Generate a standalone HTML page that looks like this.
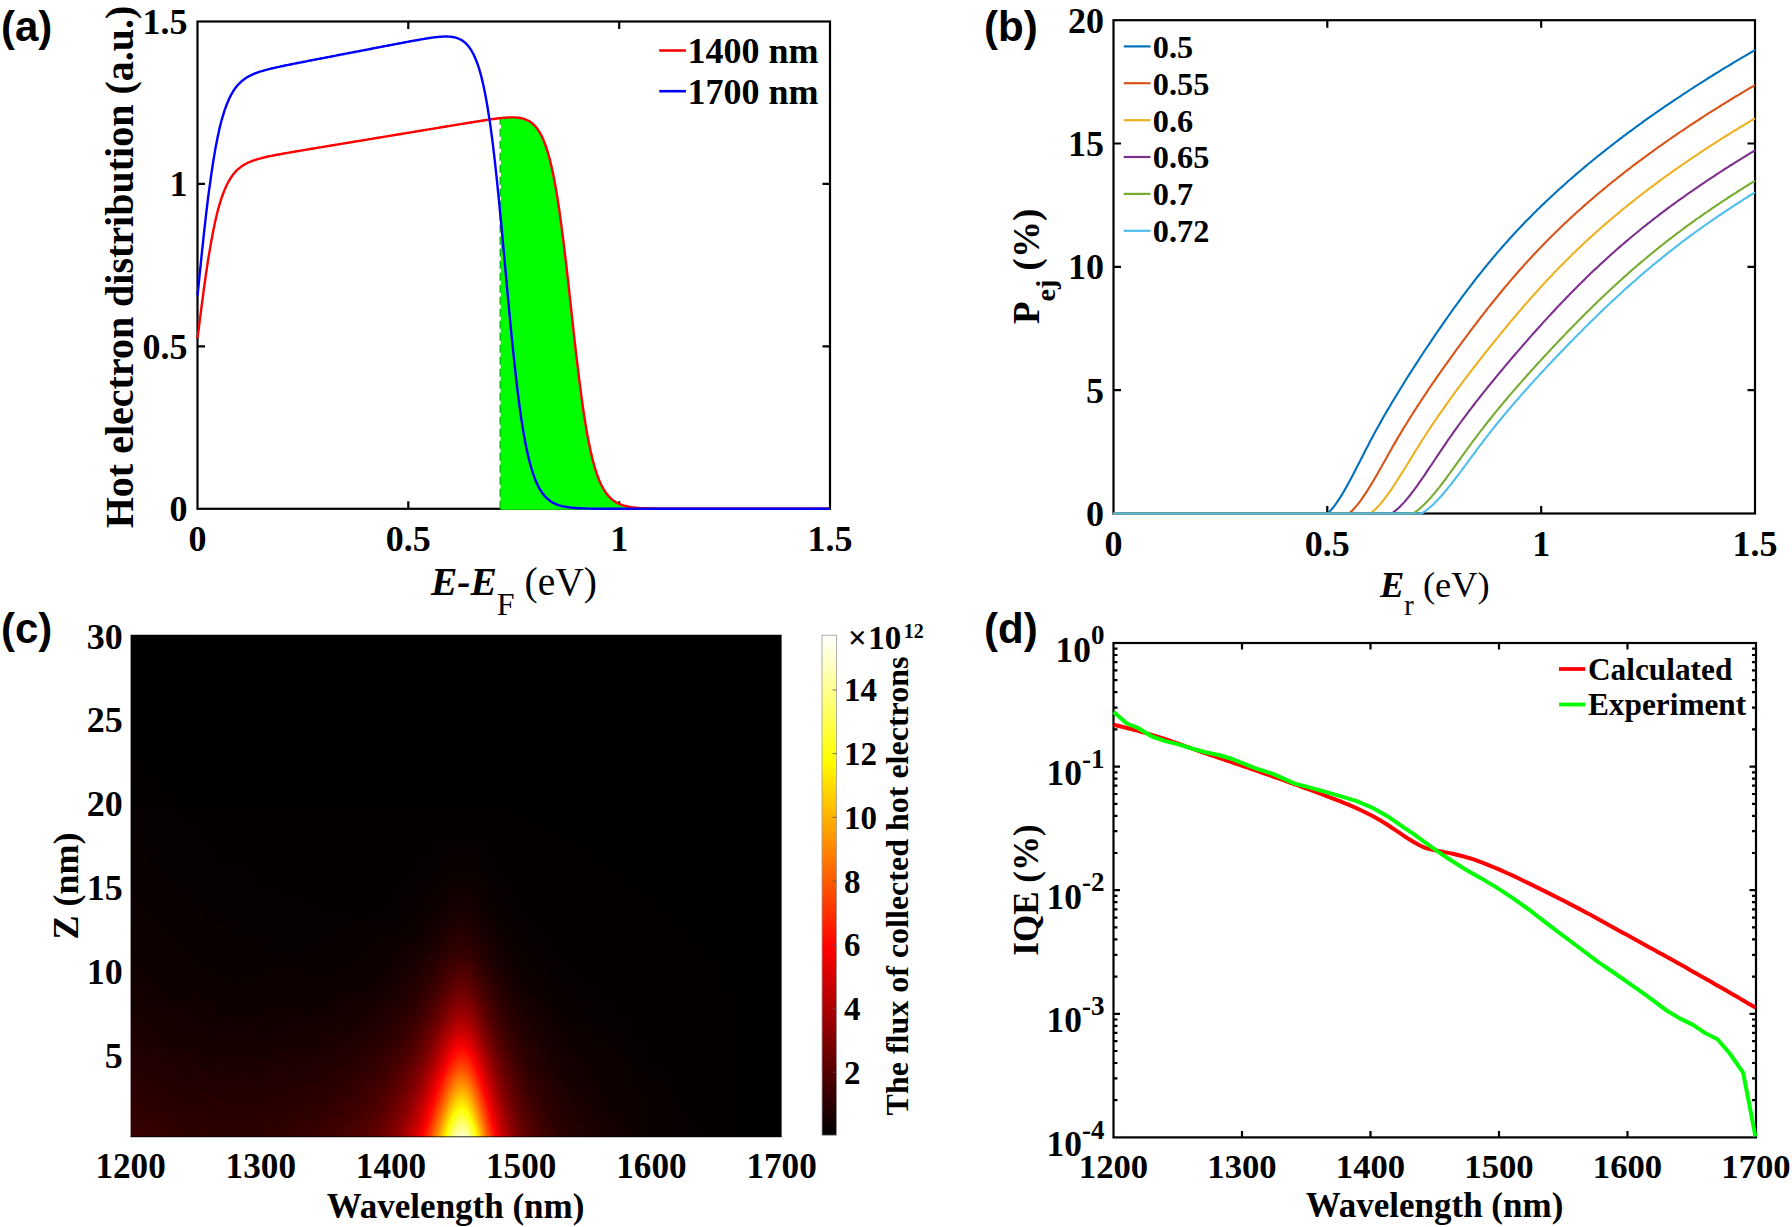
<!DOCTYPE html>
<html lang="en"><head><meta charset="utf-8"><title>Hot electron figure</title>
<style>html,body{margin:0;padding:0;background:#fff;overflow:hidden}svg{display:block}.s{font-family:"Liberation Serif", "Times New Roman", serif;font-weight:bold}.a{font-family:"Liberation Sans", Arial, sans-serif;font-weight:bold}</style>
</head><body>
<svg width="1792" height="1227" viewBox="0 0 1792 1227">
<rect width="1792" height="1227" fill="#fff"/>
<g id="panel-a">
<rect x="197.5" y="21.5" width="632.5" height="487.3" fill="none" stroke="#000" stroke-width="2.2"/>
<path d="M408.3 508.8v-7.5 M408.3 21.5v7.5 M619.2 508.8v-7.5 M619.2 21.5v7.5 M197.5 346.4h7.5 M830 346.4h-7.5 M197.5 183.9h7.5 M830 183.9h-7.5" stroke="#000" stroke-width="2.2" fill="none"/>
<path d="M500.5 509.8 L501.1 118.1 L501.1 118.1 L502.2 117.9 L503.2 117.8 L504.3 117.7 L505.3 117.7 L506.4 117.6 L507.4 117.5 L508.5 117.5 L509.5 117.4 L510.6 117.4 L511.6 117.4 L512.7 117.4 L513.8 117.4 L514.8 117.4 L515.9 117.5 L516.9 117.6 L518 117.7 L519 117.8 L520.1 118 L521.1 118.2 L522.2 118.4 L523.2 118.7 L524.3 119 L525.3 119.4 L526.4 119.8 L527.5 120.3 L528.5 120.8 L529.6 121.4 L530.6 122.1 L531.7 122.9 L532.7 123.8 L533.8 124.7 L534.8 125.8 L535.9 127 L536.9 128.3 L538 129.8 L539 131.4 L540.1 133.2 L541.2 135.1 L542.2 137.3 L543.3 139.6 L544.3 142.2 L545.4 145 L546.4 148 L547.5 151.3 L548.5 154.9 L549.6 158.8 L550.6 162.9 L551.7 167.5 L552.8 172.3 L553.8 177.5 L554.9 183 L555.9 188.9 L557 195.1 L558 201.8 L559.1 208.7 L560.1 216.1 L561.2 223.8 L562.2 231.8 L563.3 240.1 L564.3 248.7 L565.4 257.6 L566.5 266.7 L567.5 276 L568.6 285.4 L569.6 294.9 L570.7 304.6 L571.7 314.2 L572.8 323.8 L573.8 333.4 L574.9 342.8 L575.9 352.1 L577 361.1 L578.1 370 L579.1 378.6 L580.2 386.9 L581.2 394.9 L582.3 402.6 L583.3 410 L584.4 417 L585.4 423.6 L586.5 429.9 L587.5 435.8 L588.6 441.4 L589.7 446.6 L590.7 451.5 L591.8 456.1 L592.8 460.3 L593.9 464.3 L594.9 467.9 L596 471.3 L597 474.5 L598.1 477.4 L599.1 480 L600.2 482.5 L601.2 484.8 L602.3 486.9 L603.4 488.8 L604.4 490.5 L605.5 492.1 L606.5 493.6 L607.6 494.9 L608.6 496.2 L609.7 497.3 L610.7 498.3 L611.8 499.3 L612.8 500.1 L613.9 500.9 L615 501.6 L616 502.3 L617.1 502.8 L618.1 503.4 L619.2 503.9 L620.2 504.3 L621.3 504.7 L622.3 505.1 L623.4 505.4 L624.4 505.7 L625.5 506 L626.5 506.3 L627.6 506.5 L628.7 506.7 L629.7 506.9 L630.8 507.1 L631.8 507.2 L632.9 507.4 L633.9 507.5 L635 507.6 L636 507.7 L637.1 507.8 L638.1 507.9 L639.2 508 L640.2 508.1 L641.3 508.1 L642.4 508.2 L643.4 508.3 L644.5 508.3 L645.5 508.3 L646.6 508.4 L647.6 508.4 L648.7 508.5 L649.7 508.5 L650.8 508.5 L651.8 508.5 L652.9 508.6 L654 508.6 L655 508.6 L656.1 508.6 L657.1 508.6 L658.2 508.7 L659.2 508.7 L660.3 508.7 L661.3 508.7 L662.4 508.7 L663.4 508.7 L664.5 508.7 L665.5 508.7 L666.6 508.7 L667.7 508.7 L668.7 508.7 L669.8 508.8 L670.8 508.8 L671.9 508.8 L672.9 508.8 L674 508.8 L675 508.8 L676.1 508.8 L677.1 508.8 L678.2 508.8 L679.3 508.8 L680.3 508.8 L681.4 508.8 L682.4 508.8 L683.5 508.8 L684.5 508.8 L685.6 508.8 L686.6 508.8 L687.7 508.8 L688.7 508.8 L689.8 508.8 L690.8 508.8 L691.9 508.8 L693 508.8 L694 508.8 L695.1 508.8 L696.1 508.8 L697.2 508.8 L698.2 508.8 L699.3 508.8 L700.3 508.8 L701.4 508.8 L702.4 508.8 L703.5 508.8 L704.6 508.8 L705.6 508.8 L706.7 508.8 L707.7 508.8 L708.8 508.8 L709.8 508.8 L710.9 508.8 L711.9 508.8 L713 508.8 L714 508.8 L715.1 508.8 L716.1 508.8 L717.2 508.8 L718.3 508.8 L719.3 508.8 L720.4 508.8 L721.4 508.8 L722.5 508.8 L723.5 508.8 L724.6 508.8 L725.6 508.8 L726.7 508.8 L727.7 508.8 L728.8 508.8 L729.9 508.8 L730.9 508.8 L732 508.8 L733 508.8 L734.1 508.8 L735.1 508.8 L736.2 508.8 L737.2 508.8 L738.3 508.8 L739.3 508.8 L740.4 508.8 L741.5 508.8 L742.5 508.8 L743.6 508.8 L744.6 508.8 L745.7 508.8 L746.7 508.8 L747.8 508.8 L748.8 508.8 L749.9 508.8 L750.9 508.8 L752 508.8 L753 508.8 L754.1 508.8 L755.2 508.8 L756.2 508.8 L757.3 508.8 L758.3 508.8 L759.4 508.8 L760.4 508.8 L761.5 508.8 L762.5 508.8 L763.6 508.8 L764.6 508.8 L765.7 508.8 L766.8 508.8 L767.8 508.8 L768.9 508.8 L769.9 508.8 L771 508.8 L772 508.8 L773.1 508.8 L774.1 508.8 L775.2 508.8 L776.2 508.8 L777.3 508.8 L778.3 508.8 L779.4 508.8 L780.5 508.8 L781.5 508.8 L782.6 508.8 L783.6 508.8 L784.7 508.8 L785.7 508.8 L786.8 508.8 L787.8 508.8 L788.9 508.8 L789.9 508.8 L791 508.8 L792 508.8 L793.1 508.8 L794.2 508.8 L795.2 508.8 L796.3 508.8 L797.3 508.8 L798.4 508.8 L799.4 508.8 L800.5 508.8 L801.5 508.8 L802.6 508.8 L803.6 508.8 L804.7 508.8 L805.8 508.8 L806.8 508.8 L807.9 508.8 L808.9 508.8 L810 508.8 L811 508.8 L812.1 508.8 L813.1 508.8 L814.2 508.8 L815.2 508.8 L816.3 508.8 L817.4 508.8 L818.4 508.8 L819.5 508.8 L820.5 508.8 L821.6 508.8 L822.6 508.8 L823.7 508.8 L824.7 508.8 L825.8 508.8 L826.8 508.8 L827.9 508.8 L828.9 508.8 L830 508.8 L661.3 509.8Z" fill="#00ff00"/>
<path d="M500.3 508.8V119" stroke="#00c800" stroke-width="1.6" stroke-dasharray="8 4" fill="none"/>
<path d="M197.5 338.2 L198.6 329.9 L199.6 321.6 L200.7 313.4 L201.7 305.3 L202.8 297.3 L203.8 289.5 L204.9 281.9 L205.9 274.5 L207 267.4 L208 260.5 L209.1 253.9 L210.2 247.6 L211.2 241.6 L212.3 235.9 L213.3 230.5 L214.4 225.4 L215.4 220.6 L216.5 216.1 L217.5 211.8 L218.6 207.9 L219.6 204.2 L220.7 200.7 L221.7 197.5 L222.8 194.5 L223.9 191.7 L224.9 189.1 L226 186.7 L227 184.5 L228.1 182.5 L229.1 180.6 L230.2 178.8 L231.2 177.2 L232.3 175.7 L233.3 174.3 L234.4 173 L235.4 171.8 L236.5 170.7 L237.6 169.7 L238.6 168.8 L239.7 167.9 L240.7 167.1 L241.8 166.3 L242.8 165.6 L243.9 164.9 L244.9 164.3 L246 163.7 L247 163.2 L248.1 162.7 L249.2 162.2 L250.2 161.7 L251.3 161.3 L252.3 160.9 L253.4 160.5 L254.4 160.2 L255.5 159.8 L256.5 159.5 L257.6 159.2 L258.6 158.9 L259.7 158.6 L260.8 158.3 L261.8 158 L262.9 157.7 L263.9 157.5 L265 157.2 L266 157 L267.1 156.8 L268.1 156.5 L269.2 156.3 L270.2 156.1 L271.3 155.9 L272.3 155.7 L273.4 155.5 L274.5 155.3 L275.5 155 L276.6 154.8 L277.6 154.7 L278.7 154.5 L279.7 154.3 L280.8 154.1 L281.8 153.9 L282.9 153.7 L283.9 153.5 L285 153.3 L286.1 153.1 L287.1 152.9 L288.2 152.8 L289.2 152.6 L290.3 152.4 L291.3 152.2 L292.4 152 L293.4 151.9 L294.5 151.7 L295.5 151.5 L296.6 151.3 L297.6 151.1 L298.7 151 L299.8 150.8 L300.8 150.6 L301.9 150.4 L302.9 150.3 L304 150.1 L305 149.9 L306.1 149.7 L307.1 149.5 L308.2 149.4 L309.2 149.2 L310.3 149 L311.4 148.8 L312.4 148.7 L313.5 148.5 L314.5 148.3 L315.6 148.1 L316.6 148 L317.7 147.8 L318.7 147.6 L319.8 147.4 L320.8 147.3 L321.9 147.1 L322.9 146.9 L324 146.7 L325.1 146.6 L326.1 146.4 L327.2 146.2 L328.2 146 L329.3 145.9 L330.3 145.7 L331.4 145.5 L332.4 145.3 L333.5 145.2 L334.5 145 L335.6 144.8 L336.6 144.6 L337.7 144.5 L338.8 144.3 L339.8 144.1 L340.9 143.9 L341.9 143.8 L343 143.6 L344 143.4 L345.1 143.2 L346.1 143.1 L347.2 142.9 L348.2 142.7 L349.3 142.5 L350.4 142.4 L351.4 142.2 L352.5 142 L353.5 141.8 L354.6 141.7 L355.6 141.5 L356.7 141.3 L357.7 141.1 L358.8 141 L359.8 140.8 L360.9 140.6 L362 140.5 L363 140.3 L364.1 140.1 L365.1 139.9 L366.2 139.8 L367.2 139.6 L368.3 139.4 L369.3 139.2 L370.4 139.1 L371.4 138.9 L372.5 138.7 L373.5 138.5 L374.6 138.4 L375.7 138.2 L376.7 138 L377.8 137.8 L378.8 137.7 L379.9 137.5 L380.9 137.3 L382 137.1 L383 137 L384.1 136.8 L385.1 136.6 L386.2 136.4 L387.2 136.3 L388.3 136.1 L389.4 135.9 L390.4 135.7 L391.5 135.6 L392.5 135.4 L393.6 135.2 L394.6 135 L395.7 134.9 L396.7 134.7 L397.8 134.5 L398.8 134.3 L399.9 134.2 L401 134 L402 133.8 L403.1 133.6 L404.1 133.5 L405.2 133.3 L406.2 133.1 L407.3 132.9 L408.3 132.8 L409.4 132.6 L410.4 132.4 L411.5 132.2 L412.5 132.1 L413.6 131.9 L414.7 131.7 L415.7 131.5 L416.8 131.4 L417.8 131.2 L418.9 131 L419.9 130.8 L421 130.7 L422 130.5 L423.1 130.3 L424.1 130.1 L425.2 130 L426.3 129.8 L427.3 129.6 L428.4 129.4 L429.4 129.3 L430.5 129.1 L431.5 128.9 L432.6 128.8 L433.6 128.6 L434.7 128.4 L435.7 128.2 L436.8 128.1 L437.9 127.9 L438.9 127.7 L440 127.5 L441 127.4 L442.1 127.2 L443.1 127 L444.2 126.8 L445.2 126.7 L446.3 126.5 L447.3 126.3 L448.4 126.1 L449.4 126 L450.5 125.8 L451.6 125.6 L452.6 125.4 L453.7 125.3 L454.7 125.1 L455.8 124.9 L456.8 124.7 L457.9 124.6 L458.9 124.4 L460 124.2 L461 124.1 L462.1 123.9 L463.2 123.7 L464.2 123.5 L465.3 123.4 L466.3 123.2 L467.4 123 L468.4 122.8 L469.5 122.7 L470.5 122.5 L471.6 122.3 L472.6 122.2 L473.7 122 L474.7 121.8 L475.8 121.7 L476.9 121.5 L477.9 121.3 L479 121.2 L480 121 L481.1 120.8 L482.1 120.7 L483.2 120.5 L484.2 120.3 L485.3 120.2 L486.3 120 L487.4 119.9 L488.4 119.7 L489.5 119.5 L490.6 119.4 L491.6 119.2 L492.7 119.1 L493.7 119 L494.8 118.8 L495.8 118.7 L496.9 118.5 L497.9 118.4 L499 118.3 L500 118.2 L501.1 118.1 L502.2 117.9 L503.2 117.8 L504.3 117.7 L505.3 117.7 L506.4 117.6 L507.4 117.5 L508.5 117.5 L509.5 117.4 L510.6 117.4 L511.6 117.4 L512.7 117.4 L513.8 117.4 L514.8 117.4 L515.9 117.5 L516.9 117.6 L518 117.7 L519 117.8 L520.1 118 L521.1 118.2 L522.2 118.4 L523.2 118.7 L524.3 119 L525.3 119.4 L526.4 119.8 L527.5 120.3 L528.5 120.8 L529.6 121.4 L530.6 122.1 L531.7 122.9 L532.7 123.8 L533.8 124.7 L534.8 125.8 L535.9 127 L536.9 128.3 L538 129.8 L539 131.4 L540.1 133.2 L541.2 135.1 L542.2 137.3 L543.3 139.6 L544.3 142.2 L545.4 145 L546.4 148 L547.5 151.3 L548.5 154.9 L549.6 158.8 L550.6 162.9 L551.7 167.5 L552.8 172.3 L553.8 177.5 L554.9 183 L555.9 188.9 L557 195.1 L558 201.8 L559.1 208.7 L560.1 216.1 L561.2 223.8 L562.2 231.8 L563.3 240.1 L564.3 248.7 L565.4 257.6 L566.5 266.7 L567.5 276 L568.6 285.4 L569.6 294.9 L570.7 304.6 L571.7 314.2 L572.8 323.8 L573.8 333.4 L574.9 342.8 L575.9 352.1 L577 361.1 L578.1 370 L579.1 378.6 L580.2 386.9 L581.2 394.9 L582.3 402.6 L583.3 410 L584.4 417 L585.4 423.6 L586.5 429.9 L587.5 435.8 L588.6 441.4 L589.7 446.6 L590.7 451.5 L591.8 456.1 L592.8 460.3 L593.9 464.3 L594.9 467.9 L596 471.3 L597 474.5 L598.1 477.4 L599.1 480 L600.2 482.5 L601.2 484.8 L602.3 486.9 L603.4 488.8 L604.4 490.5 L605.5 492.1 L606.5 493.6 L607.6 494.9 L608.6 496.2 L609.7 497.3 L610.7 498.3 L611.8 499.3 L612.8 500.1 L613.9 500.9 L615 501.6 L616 502.3 L617.1 502.8 L618.1 503.4 L619.2 503.9 L620.2 504.3 L621.3 504.7 L622.3 505.1 L623.4 505.4 L624.4 505.7 L625.5 506 L626.5 506.3 L627.6 506.5 L628.7 506.7 L629.7 506.9 L630.8 507.1 L631.8 507.2 L632.9 507.4 L633.9 507.5 L635 507.6 L636 507.7 L637.1 507.8 L638.1 507.9 L639.2 508 L640.2 508.1 L641.3 508.1 L642.4 508.2 L643.4 508.3 L644.5 508.3 L645.5 508.3 L646.6 508.4 L647.6 508.4 L648.7 508.5 L649.7 508.5 L650.8 508.5 L651.8 508.5 L652.9 508.6 L654 508.6 L655 508.6 L656.1 508.6 L657.1 508.6 L658.2 508.7 L659.2 508.7 L660.3 508.7 L661.3 508.7 L662.4 508.7 L663.4 508.7 L664.5 508.7 L665.5 508.7 L666.6 508.7 L667.7 508.7 L668.7 508.7 L669.8 508.8 L670.8 508.8 L671.9 508.8 L672.9 508.8 L674 508.8 L675 508.8 L676.1 508.8 L677.1 508.8 L678.2 508.8 L679.3 508.8 L680.3 508.8 L681.4 508.8 L682.4 508.8 L683.5 508.8 L684.5 508.8 L685.6 508.8 L686.6 508.8 L687.7 508.8 L688.7 508.8 L689.8 508.8 L690.8 508.8 L691.9 508.8 L693 508.8 L694 508.8 L695.1 508.8 L696.1 508.8 L697.2 508.8 L698.2 508.8 L699.3 508.8 L700.3 508.8 L701.4 508.8 L702.4 508.8 L703.5 508.8 L704.6 508.8 L705.6 508.8 L706.7 508.8 L707.7 508.8 L708.8 508.8 L709.8 508.8 L710.9 508.8 L711.9 508.8 L713 508.8 L714 508.8 L715.1 508.8 L716.1 508.8 L717.2 508.8 L718.3 508.8 L719.3 508.8 L720.4 508.8 L721.4 508.8 L722.5 508.8 L723.5 508.8 L724.6 508.8 L725.6 508.8 L726.7 508.8 L727.7 508.8 L728.8 508.8 L729.9 508.8 L730.9 508.8 L732 508.8 L733 508.8 L734.1 508.8 L735.1 508.8 L736.2 508.8 L737.2 508.8 L738.3 508.8 L739.3 508.8 L740.4 508.8 L741.5 508.8 L742.5 508.8 L743.6 508.8 L744.6 508.8 L745.7 508.8 L746.7 508.8 L747.8 508.8 L748.8 508.8 L749.9 508.8 L750.9 508.8 L752 508.8 L753 508.8 L754.1 508.8 L755.2 508.8 L756.2 508.8 L757.3 508.8 L758.3 508.8 L759.4 508.8 L760.4 508.8 L761.5 508.8 L762.5 508.8 L763.6 508.8 L764.6 508.8 L765.7 508.8 L766.8 508.8 L767.8 508.8 L768.9 508.8 L769.9 508.8 L771 508.8 L772 508.8 L773.1 508.8 L774.1 508.8 L775.2 508.8 L776.2 508.8 L777.3 508.8 L778.3 508.8 L779.4 508.8 L780.5 508.8 L781.5 508.8 L782.6 508.8 L783.6 508.8 L784.7 508.8 L785.7 508.8 L786.8 508.8 L787.8 508.8 L788.9 508.8 L789.9 508.8 L791 508.8 L792 508.8 L793.1 508.8 L794.2 508.8 L795.2 508.8 L796.3 508.8 L797.3 508.8 L798.4 508.8 L799.4 508.8 L800.5 508.8 L801.5 508.8 L802.6 508.8 L803.6 508.8 L804.7 508.8 L805.8 508.8 L806.8 508.8 L807.9 508.8 L808.9 508.8 L810 508.8 L811 508.8 L812.1 508.8 L813.1 508.8 L814.2 508.8 L815.2 508.8 L816.3 508.8 L817.4 508.8 L818.4 508.8 L819.5 508.8 L820.5 508.8 L821.6 508.8 L822.6 508.8 L823.7 508.8 L824.7 508.8 L825.8 508.8 L826.8 508.8 L827.9 508.8 L828.9 508.8 L830 508.8" fill="none" stroke="#ff0000" stroke-width="2.4" stroke-linejoin="round"/>
<path d="M197.5 295.5 L198.6 285.1 L199.6 274.8 L200.7 264.5 L201.7 254.4 L202.8 244.4 L203.8 234.7 L204.9 225.2 L205.9 215.9 L207 207 L208 198.4 L209.1 190.2 L210.2 182.3 L211.2 174.8 L212.3 167.7 L213.3 161 L214.4 154.6 L215.4 148.6 L216.5 143 L217.5 137.7 L218.6 132.7 L219.6 128.1 L220.7 123.8 L221.7 119.8 L222.8 116.1 L223.9 112.6 L224.9 109.4 L226 106.5 L227 103.7 L228.1 101.2 L229.1 98.8 L230.2 96.6 L231.2 94.6 L232.3 92.8 L233.3 91 L234.4 89.4 L235.4 88 L236.5 86.6 L237.6 85.3 L238.6 84.2 L239.7 83.1 L240.7 82.1 L241.8 81.1 L242.8 80.3 L243.9 79.5 L244.9 78.7 L246 78 L247 77.3 L248.1 76.7 L249.2 76.1 L250.2 75.6 L251.3 75.1 L252.3 74.6 L253.4 74.1 L254.4 73.7 L255.5 73.2 L256.5 72.8 L257.6 72.5 L258.6 72.1 L259.7 71.7 L260.8 71.4 L261.8 71.1 L262.9 70.8 L263.9 70.5 L265 70.2 L266 69.9 L267.1 69.6 L268.1 69.3 L269.2 69.1 L270.2 68.8 L271.3 68.5 L272.3 68.3 L273.4 68.1 L274.5 67.8 L275.5 67.6 L276.6 67.3 L277.6 67.1 L278.7 66.9 L279.7 66.7 L280.8 66.4 L281.8 66.2 L282.9 66 L283.9 65.8 L285 65.5 L286.1 65.3 L287.1 65.1 L288.2 64.9 L289.2 64.7 L290.3 64.5 L291.3 64.3 L292.4 64.1 L293.4 63.8 L294.5 63.6 L295.5 63.4 L296.6 63.2 L297.6 63 L298.7 62.8 L299.8 62.6 L300.8 62.4 L301.9 62.2 L302.9 62 L304 61.8 L305 61.6 L306.1 61.4 L307.1 61.2 L308.2 60.9 L309.2 60.7 L310.3 60.5 L311.4 60.3 L312.4 60.1 L313.5 59.9 L314.5 59.7 L315.6 59.5 L316.6 59.3 L317.7 59.1 L318.7 58.9 L319.8 58.7 L320.8 58.5 L321.9 58.3 L322.9 58.1 L324 57.9 L325.1 57.7 L326.1 57.5 L327.2 57.3 L328.2 57.1 L329.3 56.9 L330.3 56.7 L331.4 56.5 L332.4 56.3 L333.5 56.1 L334.5 55.9 L335.6 55.7 L336.6 55.4 L337.7 55.2 L338.8 55 L339.8 54.8 L340.9 54.6 L341.9 54.4 L343 54.2 L344 54 L345.1 53.8 L346.1 53.6 L347.2 53.4 L348.2 53.2 L349.3 53 L350.4 52.8 L351.4 52.6 L352.5 52.4 L353.5 52.2 L354.6 52 L355.6 51.8 L356.7 51.6 L357.7 51.4 L358.8 51.2 L359.8 51 L360.9 50.8 L362 50.6 L363 50.4 L364.1 50.2 L365.1 50 L366.2 49.8 L367.2 49.6 L368.3 49.4 L369.3 49.2 L370.4 49 L371.4 48.8 L372.5 48.5 L373.5 48.3 L374.6 48.1 L375.7 47.9 L376.7 47.7 L377.8 47.5 L378.8 47.3 L379.9 47.1 L380.9 46.9 L382 46.7 L383 46.5 L384.1 46.3 L385.1 46.1 L386.2 45.9 L387.2 45.7 L388.3 45.5 L389.4 45.3 L390.4 45.1 L391.5 44.9 L392.5 44.7 L393.6 44.5 L394.6 44.3 L395.7 44.1 L396.7 43.9 L397.8 43.7 L398.8 43.5 L399.9 43.3 L401 43.1 L402 42.9 L403.1 42.7 L404.1 42.5 L405.2 42.3 L406.2 42.1 L407.3 41.9 L408.3 41.7 L409.4 41.5 L410.4 41.3 L411.5 41.1 L412.5 40.9 L413.6 40.7 L414.7 40.5 L415.7 40.4 L416.8 40.2 L417.8 40 L418.9 39.8 L419.9 39.6 L421 39.4 L422 39.2 L423.1 39.1 L424.1 38.9 L425.2 38.7 L426.3 38.5 L427.3 38.4 L428.4 38.2 L429.4 38 L430.5 37.9 L431.5 37.7 L432.6 37.6 L433.6 37.4 L434.7 37.3 L435.7 37.2 L436.8 37.1 L437.9 37 L438.9 36.9 L440 36.8 L441 36.7 L442.1 36.6 L443.1 36.6 L444.2 36.5 L445.2 36.5 L446.3 36.5 L447.3 36.5 L448.4 36.6 L449.4 36.6 L450.5 36.7 L451.6 36.8 L452.6 37 L453.7 37.2 L454.7 37.4 L455.8 37.7 L456.8 38 L457.9 38.3 L458.9 38.8 L460 39.3 L461 39.8 L462.1 40.4 L463.2 41.2 L464.2 42 L465.3 42.8 L466.3 43.8 L467.4 45 L468.4 46.2 L469.5 47.6 L470.5 49.1 L471.6 50.8 L472.6 52.7 L473.7 54.7 L474.7 57 L475.8 59.5 L476.9 62.2 L477.9 65.1 L479 68.4 L480 71.9 L481.1 75.7 L482.1 79.9 L483.2 84.4 L484.2 89.3 L485.3 94.5 L486.3 100.2 L487.4 106.2 L488.4 112.7 L489.5 119.6 L490.6 126.9 L491.6 134.7 L492.7 142.9 L493.7 151.6 L494.8 160.6 L495.8 170.1 L496.9 180 L497.9 190.2 L499 200.8 L500 211.6 L501.1 222.7 L502.2 234 L503.2 245.5 L504.3 257 L505.3 268.6 L506.4 280.3 L507.4 291.8 L508.5 303.2 L509.5 314.5 L510.6 325.6 L511.6 336.4 L512.7 346.9 L513.8 357.1 L514.8 367 L515.9 376.4 L516.9 385.5 L518 394.1 L519 402.3 L520.1 410.1 L521.1 417.5 L522.2 424.4 L523.2 430.9 L524.3 437 L525.3 442.6 L526.4 448 L527.5 452.9 L528.5 457.5 L529.6 461.7 L530.6 465.7 L531.7 469.3 L532.7 472.6 L533.8 475.7 L534.8 478.6 L535.9 481.2 L536.9 483.6 L538 485.8 L539 487.8 L540.1 489.7 L541.2 491.3 L542.2 492.9 L543.3 494.3 L544.3 495.6 L545.4 496.8 L546.4 497.9 L547.5 498.8 L548.5 499.7 L549.6 500.6 L550.6 501.3 L551.7 502 L552.8 502.6 L553.8 503.2 L554.9 503.7 L555.9 504.1 L557 504.6 L558 504.9 L559.1 505.3 L560.1 505.6 L561.2 505.9 L562.2 506.2 L563.3 506.4 L564.3 506.6 L565.4 506.8 L566.5 507 L567.5 507.2 L568.6 507.3 L569.6 507.5 L570.7 507.6 L571.7 507.7 L572.8 507.8 L573.8 507.9 L574.9 508 L575.9 508 L577 508.1 L578.1 508.2 L579.1 508.2 L580.2 508.3 L581.2 508.3 L582.3 508.4 L583.3 508.4 L584.4 508.4 L585.4 508.5 L586.5 508.5 L587.5 508.5 L588.6 508.6 L589.7 508.6 L590.7 508.6 L591.8 508.6 L592.8 508.6 L593.9 508.7 L594.9 508.7 L596 508.7 L597 508.7 L598.1 508.7 L599.1 508.7 L600.2 508.7 L601.2 508.7 L602.3 508.7 L603.4 508.7 L604.4 508.7 L605.5 508.7 L606.5 508.8 L607.6 508.8 L608.6 508.8 L609.7 508.8 L610.7 508.8 L611.8 508.8 L612.8 508.8 L613.9 508.8 L615 508.8 L616 508.8 L617.1 508.8 L618.1 508.8 L619.2 508.8 L620.2 508.8 L621.3 508.8 L622.3 508.8 L623.4 508.8 L624.4 508.8 L625.5 508.8 L626.5 508.8 L627.6 508.8 L628.7 508.8 L629.7 508.8 L630.8 508.8 L631.8 508.8 L632.9 508.8 L633.9 508.8 L635 508.8 L636 508.8 L637.1 508.8 L638.1 508.8 L639.2 508.8 L640.2 508.8 L641.3 508.8 L642.4 508.8 L643.4 508.8 L644.5 508.8 L645.5 508.8 L646.6 508.8 L647.6 508.8 L648.7 508.8 L649.7 508.8 L650.8 508.8 L651.8 508.8 L652.9 508.8 L654 508.8 L655 508.8 L656.1 508.8 L657.1 508.8 L658.2 508.8 L659.2 508.8 L660.3 508.8 L661.3 508.8 L662.4 508.8 L663.4 508.8 L664.5 508.8 L665.5 508.8 L666.6 508.8 L667.7 508.8 L668.7 508.8 L669.8 508.8 L670.8 508.8 L671.9 508.8 L672.9 508.8 L674 508.8 L675 508.8 L676.1 508.8 L677.1 508.8 L678.2 508.8 L679.3 508.8 L680.3 508.8 L681.4 508.8 L682.4 508.8 L683.5 508.8 L684.5 508.8 L685.6 508.8 L686.6 508.8 L687.7 508.8 L688.7 508.8 L689.8 508.8 L690.8 508.8 L691.9 508.8 L693 508.8 L694 508.8 L695.1 508.8 L696.1 508.8 L697.2 508.8 L698.2 508.8 L699.3 508.8 L700.3 508.8 L701.4 508.8 L702.4 508.8 L703.5 508.8 L704.6 508.8 L705.6 508.8 L706.7 508.8 L707.7 508.8 L708.8 508.8 L709.8 508.8 L710.9 508.8 L711.9 508.8 L713 508.8 L714 508.8 L715.1 508.8 L716.1 508.8 L717.2 508.8 L718.3 508.8 L719.3 508.8 L720.4 508.8 L721.4 508.8 L722.5 508.8 L723.5 508.8 L724.6 508.8 L725.6 508.8 L726.7 508.8 L727.7 508.8 L728.8 508.8 L729.9 508.8 L730.9 508.8 L732 508.8 L733 508.8 L734.1 508.8 L735.1 508.8 L736.2 508.8 L737.2 508.8 L738.3 508.8 L739.3 508.8 L740.4 508.8 L741.5 508.8 L742.5 508.8 L743.6 508.8 L744.6 508.8 L745.7 508.8 L746.7 508.8 L747.8 508.8 L748.8 508.8 L749.9 508.8 L750.9 508.8 L752 508.8 L753 508.8 L754.1 508.8 L755.2 508.8 L756.2 508.8 L757.3 508.8 L758.3 508.8 L759.4 508.8 L760.4 508.8 L761.5 508.8 L762.5 508.8 L763.6 508.8 L764.6 508.8 L765.7 508.8 L766.8 508.8 L767.8 508.8 L768.9 508.8 L769.9 508.8 L771 508.8 L772 508.8 L773.1 508.8 L774.1 508.8 L775.2 508.8 L776.2 508.8 L777.3 508.8 L778.3 508.8 L779.4 508.8 L780.5 508.8 L781.5 508.8 L782.6 508.8 L783.6 508.8 L784.7 508.8 L785.7 508.8 L786.8 508.8 L787.8 508.8 L788.9 508.8 L789.9 508.8 L791 508.8 L792 508.8 L793.1 508.8 L794.2 508.8 L795.2 508.8 L796.3 508.8 L797.3 508.8 L798.4 508.8 L799.4 508.8 L800.5 508.8 L801.5 508.8 L802.6 508.8 L803.6 508.8 L804.7 508.8 L805.8 508.8 L806.8 508.8 L807.9 508.8 L808.9 508.8 L810 508.8 L811 508.8 L812.1 508.8 L813.1 508.8 L814.2 508.8 L815.2 508.8 L816.3 508.8 L817.4 508.8 L818.4 508.8 L819.5 508.8 L820.5 508.8 L821.6 508.8 L822.6 508.8 L823.7 508.8 L824.7 508.8 L825.8 508.8 L826.8 508.8 L827.9 508.8 L828.9 508.8 L830 508.8" fill="none" stroke="#0000ff" stroke-width="2.4" stroke-linejoin="round"/>
<text class="s" x="197.5" y="551" font-size="36" text-anchor="middle" >0</text>
<text class="s" x="187.5" y="521.1" font-size="36" text-anchor="end" >0</text>
<text class="s" x="408.3" y="551" font-size="36" text-anchor="middle" >0.5</text>
<text class="s" x="187.5" y="358.7" font-size="36" text-anchor="end" >0.5</text>
<text class="s" x="619.2" y="551" font-size="36" text-anchor="middle" >1</text>
<text class="s" x="187.5" y="196.2" font-size="36" text-anchor="end" >1</text>
<text class="s" x="830" y="551" font-size="36" text-anchor="middle" >1.5</text>
<text class="s" x="187.5" y="33.8" font-size="36" text-anchor="end" >1.5</text>
<text class="s" x="431" y="595.4" font-size="39.5" text-anchor="start"><tspan font-style="italic">E-E</tspan><tspan font-weight="normal" font-size="32" dy="19.7">F</tspan><tspan font-weight="normal" dy="-19.7"> (eV)</tspan></text>
<text class="s" transform="translate(133 267) rotate(-90)" font-size="40" text-anchor="middle">Hot electron distribution (a.u.)</text>
<path d="M659.2 50.5H686" stroke="#ff0000" stroke-width="2.6"/><path d="M659.2 91.2H686" stroke="#0000ff" stroke-width="2.6"/>
<text class="s" x="687.5" y="63" font-size="36" text-anchor="start" >1400 nm</text>
<text class="s" x="687.5" y="103.8" font-size="36" text-anchor="start" >1700 nm</text>
<text class="a" x="1" y="41" font-size="42" text-anchor="start" >(a)</text>
</g>
<g id="panel-b">
<rect x="1113.5" y="20.2" width="641.5" height="493.3" fill="none" stroke="#000" stroke-width="2.2"/>
<path d="M1327.3 513.5v-7.5 M1327.3 20.2v7.5 M1541.2 513.5v-7.5 M1541.2 20.2v7.5 M1113.5 390.2h7.5 M1755 390.2h-7.5 M1113.5 266.9h7.5 M1755 266.9h-7.5 M1113.5 143.5h7.5 M1755 143.5h-7.5" stroke="#000" stroke-width="2.2" fill="none"/>
<path d="M1113.5 513.5 L1327.3 513.5 L1329.5 511.6 L1331.6 509.3 L1333.8 506.7 L1335.9 503.8 L1338.1 500.7 L1340.2 497.4 L1342.4 493.9 L1344.5 490.2 L1346.7 486.4 L1348.8 482.5 L1351 478.5 L1353.1 474.4 L1355.3 470.2 L1357.4 466.1 L1359.6 461.9 L1361.7 457.7 L1363.9 453.5 L1366 449.3 L1368.2 445.2 L1370.3 441.1 L1372.5 437 L1374.6 433 L1376.8 429.1 L1378.9 425.2 L1381.1 421.4 L1383.2 417.6 L1385.4 413.8 L1387.5 410.1 L1389.7 406.5 L1391.8 402.8 L1394 399.2 L1396.1 395.7 L1398.3 392.2 L1400.4 388.7 L1402.6 385.2 L1404.7 381.7 L1406.8 378.3 L1409 374.9 L1411.1 371.6 L1413.3 368.2 L1415.4 364.9 L1417.6 361.6 L1419.7 358.3 L1421.9 355 L1424 351.7 L1426.2 348.5 L1428.3 345.3 L1430.5 342.1 L1432.6 338.9 L1434.8 335.7 L1436.9 332.5 L1439.1 329.4 L1441.2 326.3 L1443.4 323.2 L1445.5 320.1 L1447.7 317 L1449.8 314 L1452 310.9 L1454.1 307.9 L1456.3 305 L1458.4 302 L1460.6 299.1 L1462.7 296.2 L1464.9 293.3 L1467 290.4 L1469.2 287.6 L1471.3 284.8 L1473.5 282 L1475.6 279.2 L1477.8 276.5 L1479.9 273.8 L1482.1 271.1 L1484.2 268.4 L1486.4 265.8 L1488.5 263.2 L1490.7 260.6 L1492.8 258 L1495 255.5 L1497.1 252.9 L1499.3 250.4 L1501.4 248 L1503.6 245.5 L1505.7 243.1 L1507.9 240.7 L1510 238.3 L1512.2 236 L1514.3 233.6 L1516.5 231.3 L1518.6 229 L1520.8 226.8 L1522.9 224.5 L1525 222.3 L1527.2 220.1 L1529.3 217.9 L1531.5 215.7 L1533.6 213.6 L1535.8 211.4 L1537.9 209.3 L1540.1 207.2 L1542.2 205.1 L1544.4 203.1 L1546.5 201 L1548.7 199 L1550.8 197 L1553 195 L1555.1 193 L1557.3 191 L1559.4 189 L1561.6 187.1 L1563.7 185.2 L1565.9 183.3 L1568 181.3 L1570.2 179.5 L1572.3 177.6 L1574.5 175.7 L1576.6 173.9 L1578.8 172 L1580.9 170.2 L1583.1 168.4 L1585.2 166.6 L1587.4 164.8 L1589.5 163 L1591.7 161.2 L1593.8 159.5 L1596 157.7 L1598.1 156 L1600.3 154.3 L1602.4 152.6 L1604.6 150.9 L1606.7 149.2 L1608.9 147.5 L1611 145.8 L1613.2 144.1 L1615.3 142.5 L1617.5 140.8 L1619.6 139.2 L1621.8 137.6 L1623.9 135.9 L1626.1 134.3 L1628.2 132.7 L1630.4 131.1 L1632.5 129.6 L1634.7 128 L1636.8 126.4 L1638.9 124.8 L1641.1 123.3 L1643.2 121.7 L1645.4 120.2 L1647.5 118.7 L1649.7 117.2 L1651.8 115.6 L1654 114.1 L1656.1 112.6 L1658.3 111.1 L1660.4 109.6 L1662.6 108.2 L1664.7 106.7 L1666.9 105.2 L1669 103.8 L1671.2 102.3 L1673.3 100.9 L1675.5 99.4 L1677.6 98 L1679.8 96.6 L1681.9 95.1 L1684.1 93.7 L1686.2 92.3 L1688.4 90.9 L1690.5 89.5 L1692.7 88.1 L1694.8 86.7 L1697 85.4 L1699.1 84 L1701.3 82.6 L1703.4 81.3 L1705.6 79.9 L1707.7 78.5 L1709.9 77.2 L1712 75.9 L1714.2 74.5 L1716.3 73.2 L1718.5 71.9 L1720.6 70.5 L1722.8 69.2 L1724.9 67.9 L1727.1 66.6 L1729.2 65.3 L1731.4 64 L1733.5 62.7 L1735.7 61.4 L1737.8 60.1 L1740 58.9 L1742.1 57.6 L1744.3 56.3 L1746.4 55.1 L1748.6 53.8 L1750.7 52.5 L1752.9 51.3 L1755 50" fill="none" stroke="#0072bd" stroke-width="2.1" stroke-linejoin="round"/>
<path d="M1113.5 513.5 L1348.7 513.5 L1350.8 511.9 L1352.8 510 L1354.8 507.8 L1356.9 505.4 L1358.9 502.9 L1361 500.1 L1363 497.2 L1365 494.2 L1367.1 491.1 L1369.1 487.8 L1371.2 484.4 L1373.2 481 L1375.3 477.5 L1377.3 474 L1379.3 470.4 L1381.4 466.8 L1383.4 463.2 L1385.5 459.6 L1387.5 455.9 L1389.5 452.3 L1391.6 448.7 L1393.6 445.1 L1395.7 441.6 L1397.7 438.1 L1399.8 434.6 L1401.8 431.2 L1403.8 427.8 L1405.9 424.5 L1407.9 421.2 L1410 417.9 L1412 414.7 L1414 411.5 L1416.1 408.3 L1418.1 405.1 L1420.2 402 L1422.2 398.9 L1424.3 395.8 L1426.3 392.8 L1428.3 389.7 L1430.4 386.7 L1432.4 383.7 L1434.5 380.8 L1436.5 377.8 L1438.5 374.9 L1440.6 372 L1442.6 369.1 L1444.7 366.2 L1446.7 363.3 L1448.8 360.5 L1450.8 357.6 L1452.8 354.8 L1454.9 352 L1456.9 349.2 L1459 346.4 L1461 343.6 L1463 340.8 L1465.1 338.1 L1467.1 335.3 L1469.2 332.6 L1471.2 329.9 L1473.3 327.2 L1475.3 324.5 L1477.3 321.8 L1479.4 319.2 L1481.4 316.5 L1483.5 313.9 L1485.5 311.3 L1487.5 308.7 L1489.6 306.1 L1491.6 303.5 L1493.7 301 L1495.7 298.5 L1497.8 296 L1499.8 293.5 L1501.8 291 L1503.9 288.5 L1505.9 286.1 L1508 283.7 L1510 281.3 L1512 278.9 L1514.1 276.5 L1516.1 274.2 L1518.2 271.8 L1520.2 269.5 L1522.3 267.2 L1524.3 264.9 L1526.3 262.7 L1528.4 260.4 L1530.4 258.2 L1532.5 256 L1534.5 253.8 L1536.5 251.7 L1538.6 249.5 L1540.6 247.4 L1542.7 245.3 L1544.7 243.2 L1546.8 241.1 L1548.8 239 L1550.8 237 L1552.9 235 L1554.9 232.9 L1557 231 L1559 229 L1561 227 L1563.1 225.1 L1565.1 223.1 L1567.2 221.2 L1569.2 219.3 L1571.3 217.4 L1573.3 215.5 L1575.3 213.7 L1577.4 211.8 L1579.4 210 L1581.5 208.2 L1583.5 206.4 L1585.5 204.6 L1587.6 202.8 L1589.6 201 L1591.7 199.2 L1593.7 197.5 L1595.8 195.7 L1597.8 194 L1599.8 192.3 L1601.9 190.6 L1603.9 188.9 L1606 187.2 L1608 185.5 L1610 183.9 L1612.1 182.2 L1614.1 180.6 L1616.2 179 L1618.2 177.3 L1620.3 175.7 L1622.3 174.1 L1624.3 172.5 L1626.4 170.9 L1628.4 169.4 L1630.5 167.8 L1632.5 166.2 L1634.5 164.7 L1636.6 163.1 L1638.6 161.6 L1640.7 160.1 L1642.7 158.6 L1644.8 157.1 L1646.8 155.6 L1648.8 154.1 L1650.9 152.6 L1652.9 151.1 L1655 149.6 L1657 148.2 L1659 146.7 L1661.1 145.3 L1663.1 143.8 L1665.2 142.4 L1667.2 141 L1669.3 139.5 L1671.3 138.1 L1673.3 136.7 L1675.4 135.3 L1677.4 133.9 L1679.5 132.5 L1681.5 131.2 L1683.5 129.8 L1685.6 128.4 L1687.6 127 L1689.7 125.7 L1691.7 124.3 L1693.8 123 L1695.8 121.7 L1697.8 120.3 L1699.9 119 L1701.9 117.7 L1704 116.4 L1706 115 L1708 113.7 L1710.1 112.4 L1712.1 111.1 L1714.2 109.8 L1716.2 108.6 L1718.3 107.3 L1720.3 106 L1722.3 104.7 L1724.4 103.5 L1726.4 102.2 L1728.5 101 L1730.5 99.7 L1732.5 98.5 L1734.6 97.2 L1736.6 96 L1738.7 94.8 L1740.7 93.5 L1742.8 92.3 L1744.8 91.1 L1746.8 89.9 L1748.9 88.7 L1750.9 87.5 L1753 86.3 L1755 85.1" fill="none" stroke="#d95319" stroke-width="2.1" stroke-linejoin="round"/>
<path d="M1113.5 513.5 L1370.1 513.5 L1372 512.1 L1374 510.5 L1375.9 508.7 L1377.8 506.7 L1379.8 504.6 L1381.7 502.3 L1383.6 499.9 L1385.6 497.4 L1387.5 494.8 L1389.4 492.1 L1391.4 489.3 L1393.3 486.4 L1395.2 483.5 L1397.2 480.5 L1399.1 477.4 L1401 474.4 L1403 471.3 L1404.9 468.2 L1406.8 465 L1408.8 461.9 L1410.7 458.7 L1412.7 455.6 L1414.6 452.4 L1416.5 449.3 L1418.5 446.2 L1420.4 443.1 L1422.3 440 L1424.3 437 L1426.2 434 L1428.1 431 L1430.1 428.1 L1432 425.2 L1433.9 422.3 L1435.9 419.5 L1437.8 416.6 L1439.7 413.8 L1441.7 411.1 L1443.6 408.3 L1445.5 405.6 L1447.5 402.8 L1449.4 400.1 L1451.3 397.5 L1453.3 394.8 L1455.2 392.2 L1457.1 389.5 L1459.1 386.9 L1461 384.3 L1462.9 381.7 L1464.9 379.2 L1466.8 376.6 L1468.7 374.1 L1470.7 371.6 L1472.6 369 L1474.5 366.5 L1476.5 364.1 L1478.4 361.6 L1480.3 359.1 L1482.3 356.6 L1484.2 354.2 L1486.2 351.7 L1488.1 349.3 L1490 346.9 L1492 344.5 L1493.9 342.1 L1495.8 339.7 L1497.8 337.3 L1499.7 334.9 L1501.6 332.5 L1503.6 330.2 L1505.5 327.8 L1507.4 325.5 L1509.4 323.2 L1511.3 320.8 L1513.2 318.5 L1515.2 316.3 L1517.1 314 L1519 311.7 L1521 309.5 L1522.9 307.2 L1524.8 305 L1526.8 302.8 L1528.7 300.6 L1530.6 298.4 L1532.6 296.2 L1534.5 294 L1536.4 291.9 L1538.4 289.8 L1540.3 287.6 L1542.2 285.5 L1544.2 283.4 L1546.1 281.3 L1548 279.3 L1550 277.2 L1551.9 275.2 L1553.8 273.1 L1555.8 271.1 L1557.7 269.1 L1559.6 267.1 L1561.6 265.2 L1563.5 263.2 L1565.5 261.2 L1567.4 259.3 L1569.3 257.4 L1571.3 255.5 L1573.2 253.6 L1575.1 251.7 L1577.1 249.8 L1579 248 L1580.9 246.2 L1582.9 244.3 L1584.8 242.5 L1586.7 240.7 L1588.7 238.9 L1590.6 237.2 L1592.5 235.4 L1594.5 233.7 L1596.4 231.9 L1598.3 230.2 L1600.3 228.5 L1602.2 226.8 L1604.1 225.1 L1606.1 223.4 L1608 221.8 L1609.9 220.1 L1611.9 218.5 L1613.8 216.8 L1615.7 215.2 L1617.7 213.6 L1619.6 212 L1621.5 210.4 L1623.5 208.8 L1625.4 207.3 L1627.3 205.7 L1629.3 204.1 L1631.2 202.6 L1633.1 201.1 L1635.1 199.5 L1637 198 L1638.9 196.5 L1640.9 195 L1642.8 193.5 L1644.8 192 L1646.7 190.6 L1648.6 189.1 L1650.6 187.6 L1652.5 186.2 L1654.4 184.7 L1656.4 183.3 L1658.3 181.9 L1660.2 180.4 L1662.2 179 L1664.1 177.6 L1666 176.2 L1668 174.8 L1669.9 173.5 L1671.8 172.1 L1673.8 170.7 L1675.7 169.3 L1677.6 168 L1679.6 166.6 L1681.5 165.3 L1683.4 164 L1685.4 162.6 L1687.3 161.3 L1689.2 160 L1691.2 158.7 L1693.1 157.4 L1695 156.1 L1697 154.8 L1698.9 153.5 L1700.8 152.2 L1702.8 150.9 L1704.7 149.6 L1706.6 148.4 L1708.6 147.1 L1710.5 145.9 L1712.4 144.6 L1714.4 143.4 L1716.3 142.1 L1718.3 140.9 L1720.2 139.7 L1722.1 138.4 L1724.1 137.2 L1726 136 L1727.9 134.8 L1729.9 133.6 L1731.8 132.4 L1733.7 131.2 L1735.7 130 L1737.6 128.8 L1739.5 127.6 L1741.5 126.5 L1743.4 125.3 L1745.3 124.1 L1747.3 123 L1749.2 121.8 L1751.1 120.7 L1753.1 119.5 L1755 118.4" fill="none" stroke="#edb120" stroke-width="2.1" stroke-linejoin="round"/>
<path d="M1113.5 513.5 L1391.5 513.5 L1393.3 512.3 L1395.1 510.9 L1397 509.4 L1398.8 507.7 L1400.6 506 L1402.4 504.1 L1404.3 502.1 L1406.1 500 L1407.9 497.8 L1409.8 495.5 L1411.6 493.2 L1413.4 490.8 L1415.2 488.3 L1417.1 485.8 L1418.9 483.2 L1420.7 480.6 L1422.5 478 L1424.4 475.3 L1426.2 472.6 L1428 469.9 L1429.8 467.2 L1431.7 464.5 L1433.5 461.7 L1435.3 459 L1437.2 456.2 L1439 453.5 L1440.8 450.8 L1442.6 448.1 L1444.5 445.4 L1446.3 442.7 L1448.1 440 L1449.9 437.4 L1451.8 434.8 L1453.6 432.2 L1455.4 429.6 L1457.2 427.1 L1459.1 424.5 L1460.9 422 L1462.7 419.5 L1464.6 417.1 L1466.4 414.6 L1468.2 412.2 L1470 409.8 L1471.9 407.4 L1473.7 405 L1475.5 402.7 L1477.3 400.3 L1479.2 398 L1481 395.7 L1482.8 393.4 L1484.6 391.1 L1486.5 388.8 L1488.3 386.5 L1490.1 384.3 L1492 382 L1493.8 379.8 L1495.6 377.6 L1497.4 375.4 L1499.3 373.1 L1501.1 371 L1502.9 368.8 L1504.7 366.6 L1506.6 364.4 L1508.4 362.3 L1510.2 360.1 L1512 358 L1513.9 355.8 L1515.7 353.7 L1517.5 351.6 L1519.4 349.5 L1521.2 347.4 L1523 345.3 L1524.8 343.2 L1526.7 341.1 L1528.5 339 L1530.3 336.9 L1532.1 334.9 L1534 332.8 L1535.8 330.8 L1537.6 328.7 L1539.4 326.7 L1541.3 324.7 L1543.1 322.6 L1544.9 320.6 L1546.8 318.6 L1548.6 316.6 L1550.4 314.7 L1552.2 312.7 L1554.1 310.7 L1555.9 308.8 L1557.7 306.8 L1559.5 304.9 L1561.4 303 L1563.2 301.1 L1565 299.2 L1566.8 297.3 L1568.7 295.4 L1570.5 293.5 L1572.3 291.7 L1574.2 289.8 L1576 288 L1577.8 286.1 L1579.6 284.3 L1581.5 282.5 L1583.3 280.7 L1585.1 278.9 L1586.9 277.1 L1588.8 275.3 L1590.6 273.6 L1592.4 271.8 L1594.2 270.1 L1596.1 268.4 L1597.9 266.7 L1599.7 264.9 L1601.6 263.2 L1603.4 261.6 L1605.2 259.9 L1607 258.2 L1608.9 256.6 L1610.7 254.9 L1612.5 253.3 L1614.3 251.7 L1616.2 250 L1618 248.4 L1619.8 246.9 L1621.6 245.3 L1623.5 243.7 L1625.3 242.1 L1627.1 240.6 L1629 239 L1630.8 237.5 L1632.6 236 L1634.4 234.5 L1636.3 233 L1638.1 231.5 L1639.9 230 L1641.7 228.5 L1643.6 227 L1645.4 225.6 L1647.2 224.1 L1649.1 222.7 L1650.9 221.3 L1652.7 219.8 L1654.5 218.4 L1656.4 217 L1658.2 215.6 L1660 214.2 L1661.8 212.8 L1663.7 211.4 L1665.5 210.1 L1667.3 208.7 L1669.1 207.4 L1671 206 L1672.8 204.7 L1674.6 203.3 L1676.5 202 L1678.3 200.7 L1680.1 199.4 L1681.9 198.1 L1683.8 196.8 L1685.6 195.5 L1687.4 194.2 L1689.2 192.9 L1691.1 191.6 L1692.9 190.3 L1694.7 189.1 L1696.5 187.8 L1698.4 186.6 L1700.2 185.3 L1702 184.1 L1703.9 182.9 L1705.7 181.6 L1707.5 180.4 L1709.3 179.2 L1711.2 178 L1713 176.8 L1714.8 175.6 L1716.6 174.4 L1718.5 173.2 L1720.3 172 L1722.1 170.8 L1723.9 169.7 L1725.8 168.5 L1727.6 167.3 L1729.4 166.2 L1731.3 165 L1733.1 163.9 L1734.9 162.7 L1736.7 161.6 L1738.6 160.4 L1740.4 159.3 L1742.2 158.2 L1744 157.1 L1745.9 155.9 L1747.7 154.8 L1749.5 153.7 L1751.3 152.6 L1753.2 151.5 L1755 150.4" fill="none" stroke="#7e2f8e" stroke-width="2.1" stroke-linejoin="round"/>
<path d="M1113.5 513.5 L1412.9 513.5 L1414.6 512.5 L1416.3 511.3 L1418 510 L1419.7 508.6 L1421.5 507.1 L1423.2 505.5 L1424.9 503.8 L1426.6 502.1 L1428.3 500.3 L1430.1 498.4 L1431.8 496.4 L1433.5 494.4 L1435.2 492.3 L1436.9 490.2 L1438.7 488.1 L1440.4 485.9 L1442.1 483.6 L1443.8 481.4 L1445.5 479.1 L1447.3 476.7 L1449 474.4 L1450.7 472.1 L1452.4 469.7 L1454.1 467.3 L1455.8 464.9 L1457.6 462.5 L1459.3 460.1 L1461 457.7 L1462.7 455.3 L1464.4 452.9 L1466.2 450.6 L1467.9 448.2 L1469.6 445.8 L1471.3 443.5 L1473 441.2 L1474.8 438.8 L1476.5 436.6 L1478.2 434.3 L1479.9 432 L1481.6 429.8 L1483.4 427.6 L1485.1 425.3 L1486.8 423.2 L1488.5 421 L1490.2 418.8 L1492 416.7 L1493.7 414.5 L1495.4 412.4 L1497.1 410.3 L1498.8 408.2 L1500.5 406.2 L1502.3 404.1 L1504 402 L1505.7 400 L1507.4 398 L1509.1 395.9 L1510.9 393.9 L1512.6 391.9 L1514.3 389.9 L1516 388 L1517.7 386 L1519.5 384 L1521.2 382.1 L1522.9 380.1 L1524.6 378.2 L1526.3 376.3 L1528.1 374.3 L1529.8 372.4 L1531.5 370.5 L1533.2 368.6 L1534.9 366.7 L1536.7 364.8 L1538.4 362.9 L1540.1 361.1 L1541.8 359.2 L1543.5 357.3 L1545.2 355.5 L1547 353.6 L1548.7 351.8 L1550.4 349.9 L1552.1 348.1 L1553.8 346.3 L1555.6 344.4 L1557.3 342.6 L1559 340.8 L1560.7 339 L1562.4 337.2 L1564.2 335.4 L1565.9 333.6 L1567.6 331.8 L1569.3 330 L1571 328.3 L1572.8 326.5 L1574.5 324.7 L1576.2 323 L1577.9 321.2 L1579.6 319.5 L1581.4 317.8 L1583.1 316 L1584.8 314.3 L1586.5 312.6 L1588.2 310.9 L1590 309.2 L1591.7 307.5 L1593.4 305.8 L1595.1 304.2 L1596.8 302.5 L1598.5 300.8 L1600.3 299.2 L1602 297.5 L1603.7 295.9 L1605.4 294.3 L1607.1 292.7 L1608.9 291 L1610.6 289.4 L1612.3 287.8 L1614 286.3 L1615.7 284.7 L1617.5 283.1 L1619.2 281.5 L1620.9 280 L1622.6 278.4 L1624.3 276.9 L1626.1 275.4 L1627.8 273.8 L1629.5 272.3 L1631.2 270.8 L1632.9 269.3 L1634.7 267.8 L1636.4 266.3 L1638.1 264.8 L1639.8 263.4 L1641.5 261.9 L1643.2 260.5 L1645 259 L1646.7 257.6 L1648.4 256.1 L1650.1 254.7 L1651.8 253.3 L1653.6 251.9 L1655.3 250.5 L1657 249.1 L1658.7 247.7 L1660.4 246.4 L1662.2 245 L1663.9 243.6 L1665.6 242.3 L1667.3 240.9 L1669 239.6 L1670.8 238.3 L1672.5 237 L1674.2 235.7 L1675.9 234.3 L1677.6 233 L1679.4 231.8 L1681.1 230.5 L1682.8 229.2 L1684.5 227.9 L1686.2 226.7 L1687.9 225.4 L1689.7 224.2 L1691.4 222.9 L1693.1 221.7 L1694.8 220.4 L1696.5 219.2 L1698.3 218 L1700 216.8 L1701.7 215.6 L1703.4 214.4 L1705.1 213.2 L1706.9 212 L1708.6 210.8 L1710.3 209.6 L1712 208.4 L1713.7 207.3 L1715.5 206.1 L1717.2 205 L1718.9 203.8 L1720.6 202.7 L1722.3 201.5 L1724.1 200.4 L1725.8 199.3 L1727.5 198.1 L1729.2 197 L1730.9 195.9 L1732.6 194.8 L1734.4 193.7 L1736.1 192.6 L1737.8 191.5 L1739.5 190.4 L1741.2 189.3 L1743 188.2 L1744.7 187.1 L1746.4 186.1 L1748.1 185 L1749.8 183.9 L1751.6 182.9 L1753.3 181.8 L1755 180.8" fill="none" stroke="#77ac30" stroke-width="2.1" stroke-linejoin="round"/>
<path d="M1113.5 513.5 L1421.4 513.5 L1423.1 512.5 L1424.8 511.4 L1426.4 510.2 L1428.1 508.9 L1429.8 507.5 L1431.5 506 L1433.2 504.5 L1434.8 502.8 L1436.5 501.1 L1438.2 499.4 L1439.9 497.5 L1441.5 495.7 L1443.2 493.7 L1444.9 491.8 L1446.6 489.8 L1448.2 487.7 L1449.9 485.6 L1451.6 483.5 L1453.3 481.3 L1454.9 479.2 L1456.6 477 L1458.3 474.8 L1460 472.5 L1461.7 470.3 L1463.3 468 L1465 465.8 L1466.7 463.5 L1468.4 461.2 L1470 459 L1471.7 456.7 L1473.4 454.4 L1475.1 452.2 L1476.7 449.9 L1478.4 447.7 L1480.1 445.4 L1481.8 443.2 L1483.4 441 L1485.1 438.8 L1486.8 436.6 L1488.5 434.5 L1490.1 432.3 L1491.8 430.2 L1493.5 428.1 L1495.2 426 L1496.9 423.9 L1498.5 421.9 L1500.2 419.8 L1501.9 417.8 L1503.6 415.8 L1505.2 413.7 L1506.9 411.7 L1508.6 409.8 L1510.3 407.8 L1511.9 405.8 L1513.6 403.9 L1515.3 401.9 L1517 400 L1518.6 398.1 L1520.3 396.1 L1522 394.2 L1523.7 392.3 L1525.3 390.5 L1527 388.6 L1528.7 386.7 L1530.4 384.8 L1532.1 383 L1533.7 381.1 L1535.4 379.3 L1537.1 377.5 L1538.8 375.6 L1540.4 373.8 L1542.1 372 L1543.8 370.2 L1545.5 368.4 L1547.1 366.6 L1548.8 364.8 L1550.5 363.1 L1552.2 361.3 L1553.8 359.5 L1555.5 357.7 L1557.2 356 L1558.9 354.2 L1560.6 352.5 L1562.2 350.7 L1563.9 349 L1565.6 347.3 L1567.3 345.5 L1568.9 343.8 L1570.6 342.1 L1572.3 340.4 L1574 338.6 L1575.6 336.9 L1577.3 335.2 L1579 333.5 L1580.7 331.9 L1582.3 330.2 L1584 328.5 L1585.7 326.8 L1587.4 325.2 L1589 323.5 L1590.7 321.8 L1592.4 320.2 L1594.1 318.6 L1595.8 316.9 L1597.4 315.3 L1599.1 313.7 L1600.8 312.1 L1602.5 310.4 L1604.1 308.8 L1605.8 307.2 L1607.5 305.7 L1609.2 304.1 L1610.8 302.5 L1612.5 300.9 L1614.2 299.4 L1615.9 297.8 L1617.5 296.3 L1619.2 294.7 L1620.9 293.2 L1622.6 291.7 L1624.3 290.1 L1625.9 288.6 L1627.6 287.1 L1629.3 285.6 L1631 284.1 L1632.6 282.6 L1634.3 281.2 L1636 279.7 L1637.7 278.2 L1639.3 276.8 L1641 275.3 L1642.7 273.9 L1644.4 272.4 L1646 271 L1647.7 269.6 L1649.4 268.2 L1651.1 266.8 L1652.7 265.4 L1654.4 264 L1656.1 262.6 L1657.8 261.2 L1659.5 259.9 L1661.1 258.5 L1662.8 257.1 L1664.5 255.8 L1666.2 254.4 L1667.8 253.1 L1669.5 251.8 L1671.2 250.5 L1672.9 249.2 L1674.5 247.9 L1676.2 246.6 L1677.9 245.3 L1679.6 244 L1681.2 242.7 L1682.9 241.4 L1684.6 240.2 L1686.3 238.9 L1687.9 237.7 L1689.6 236.4 L1691.3 235.2 L1693 234 L1694.7 232.7 L1696.3 231.5 L1698 230.3 L1699.7 229.1 L1701.4 227.9 L1703 226.7 L1704.7 225.5 L1706.4 224.3 L1708.1 223.2 L1709.7 222 L1711.4 220.8 L1713.1 219.7 L1714.8 218.5 L1716.4 217.4 L1718.1 216.2 L1719.8 215.1 L1721.5 214 L1723.2 212.8 L1724.8 211.7 L1726.5 210.6 L1728.2 209.5 L1729.9 208.4 L1731.5 207.3 L1733.2 206.2 L1734.9 205.1 L1736.6 204 L1738.2 202.9 L1739.9 201.8 L1741.6 200.8 L1743.3 199.7 L1744.9 198.6 L1746.6 197.6 L1748.3 196.5 L1750 195.5 L1751.6 194.4 L1753.3 193.4 L1755 192.4" fill="none" stroke="#4dbeee" stroke-width="2.1" stroke-linejoin="round"/>
<text class="s" x="1113.5" y="556.4" font-size="36" text-anchor="middle" >0</text>
<text class="s" x="1327.3" y="556.4" font-size="36" text-anchor="middle" >0.5</text>
<text class="s" x="1541.2" y="556.4" font-size="36" text-anchor="middle" >1</text>
<text class="s" x="1755" y="556.4" font-size="36" text-anchor="middle" >1.5</text>
<text class="s" x="1104" y="525.8" font-size="36" text-anchor="end" >0</text>
<text class="s" x="1104" y="402.5" font-size="36" text-anchor="end" >5</text>
<text class="s" x="1104" y="279.2" font-size="36" text-anchor="end" >10</text>
<text class="s" x="1104" y="155.8" font-size="36" text-anchor="end" >15</text>
<text class="s" x="1104" y="32.5" font-size="36" text-anchor="end" >20</text>
<path d="M1123.7 46.4H1150.5" stroke="#0072bd" stroke-width="2.2"/>
<text class="s" x="1152.8" y="57.7" font-size="32.3" text-anchor="start" >0.5</text>
<path d="M1123.7 83.2H1150.5" stroke="#d95319" stroke-width="2.2"/>
<text class="s" x="1152.8" y="94.5" font-size="32.3" text-anchor="start" >0.55</text>
<path d="M1123.7 120.2H1150.5" stroke="#edb120" stroke-width="2.2"/>
<text class="s" x="1152.8" y="131.5" font-size="32.3" text-anchor="start" >0.6</text>
<path d="M1123.7 157H1150.5" stroke="#7e2f8e" stroke-width="2.2"/>
<text class="s" x="1152.8" y="168.3" font-size="32.3" text-anchor="start" >0.65</text>
<path d="M1123.7 193.9H1150.5" stroke="#77ac30" stroke-width="2.2"/>
<text class="s" x="1152.8" y="205.2" font-size="32.3" text-anchor="start" >0.7</text>
<path d="M1123.7 230.8H1150.5" stroke="#4dbeee" stroke-width="2.2"/>
<text class="s" x="1152.8" y="242.1" font-size="32.3" text-anchor="start" >0.72</text>
<text class="s" x="1380" y="596.8" font-size="36.4" text-anchor="start"><tspan font-style="italic">E</tspan><tspan font-weight="normal" font-size="28.5" dy="18.1">r</tspan><tspan font-weight="normal" dy="-18.1"> (eV)</tspan></text>
<text class="s" transform="translate(1039 324) rotate(-90)" font-size="37" text-anchor="start">P<tspan font-size="28" dy="16.3">ej</tspan><tspan dy="-16.3"> (%)</tspan></text>
<text class="a" x="984" y="41" font-size="42" text-anchor="start" >(b)</text>
</g>
<g id="panel-c">
<defs>
<linearGradient id="gx" gradientUnits="userSpaceOnUse" x1="130.6" x2="781.6" y1="0" y2="0">
<stop offset="0.0000" stop-color="rgb(4,97,97)"/>
<stop offset="0.0100" stop-color="rgb(4,95,85)"/>
<stop offset="0.0200" stop-color="rgb(4,94,75)"/>
<stop offset="0.0300" stop-color="rgb(5,93,67)"/>
<stop offset="0.0400" stop-color="rgb(5,92,59)"/>
<stop offset="0.0500" stop-color="rgb(5,90,52)"/>
<stop offset="0.0600" stop-color="rgb(5,89,46)"/>
<stop offset="0.0700" stop-color="rgb(5,88,40)"/>
<stop offset="0.0800" stop-color="rgb(5,87,36)"/>
<stop offset="0.0900" stop-color="rgb(5,85,31)"/>
<stop offset="0.1000" stop-color="rgb(6,84,28)"/>
<stop offset="0.1100" stop-color="rgb(6,83,24)"/>
<stop offset="0.1200" stop-color="rgb(6,82,22)"/>
<stop offset="0.1300" stop-color="rgb(6,80,19)"/>
<stop offset="0.1400" stop-color="rgb(7,79,17)"/>
<stop offset="0.1500" stop-color="rgb(7,78,15)"/>
<stop offset="0.1600" stop-color="rgb(7,77,13)"/>
<stop offset="0.1700" stop-color="rgb(7,76,11)"/>
<stop offset="0.1800" stop-color="rgb(8,75,10)"/>
<stop offset="0.1900" stop-color="rgb(8,73,9)"/>
<stop offset="0.2000" stop-color="rgb(8,72,8)"/>
<stop offset="0.2100" stop-color="rgb(9,71,7)"/>
<stop offset="0.2200" stop-color="rgb(9,70,6)"/>
<stop offset="0.2300" stop-color="rgb(10,69,5)"/>
<stop offset="0.2400" stop-color="rgb(10,68,5)"/>
<stop offset="0.2500" stop-color="rgb(11,67,4)"/>
<stop offset="0.2600" stop-color="rgb(12,66,4)"/>
<stop offset="0.2700" stop-color="rgb(12,65,3)"/>
<stop offset="0.2800" stop-color="rgb(13,63,3)"/>
<stop offset="0.2900" stop-color="rgb(14,62,2)"/>
<stop offset="0.3000" stop-color="rgb(15,61,2)"/>
<stop offset="0.3100" stop-color="rgb(16,60,2)"/>
<stop offset="0.3200" stop-color="rgb(18,59,2)"/>
<stop offset="0.3300" stop-color="rgb(19,58,1)"/>
<stop offset="0.3400" stop-color="rgb(21,57,1)"/>
<stop offset="0.3500" stop-color="rgb(23,56,1)"/>
<stop offset="0.3600" stop-color="rgb(26,55,1)"/>
<stop offset="0.3650" stop-color="rgb(27,55,1)"/>
<stop offset="0.3700" stop-color="rgb(29,54,1)"/>
<stop offset="0.3750" stop-color="rgb(30,54,1)"/>
<stop offset="0.3800" stop-color="rgb(32,53,1)"/>
<stop offset="0.3850" stop-color="rgb(34,53,1)"/>
<stop offset="0.3900" stop-color="rgb(36,52,1)"/>
<stop offset="0.3950" stop-color="rgb(39,52,1)"/>
<stop offset="0.4000" stop-color="rgb(42,51,1)"/>
<stop offset="0.4050" stop-color="rgb(45,51,1)"/>
<stop offset="0.4100" stop-color="rgb(48,50,1)"/>
<stop offset="0.4150" stop-color="rgb(52,50,0)"/>
<stop offset="0.4200" stop-color="rgb(56,49,0)"/>
<stop offset="0.4250" stop-color="rgb(61,49,0)"/>
<stop offset="0.4300" stop-color="rgb(66,48,0)"/>
<stop offset="0.4350" stop-color="rgb(72,48,0)"/>
<stop offset="0.4400" stop-color="rgb(79,47,0)"/>
<stop offset="0.4450" stop-color="rgb(86,47,0)"/>
<stop offset="0.4500" stop-color="rgb(95,46,0)"/>
<stop offset="0.4550" stop-color="rgb(105,46,0)"/>
<stop offset="0.4600" stop-color="rgb(116,45,0)"/>
<stop offset="0.4650" stop-color="rgb(129,45,0)"/>
<stop offset="0.4700" stop-color="rgb(143,45,0)"/>
<stop offset="0.4750" stop-color="rgb(158,44,0)"/>
<stop offset="0.4800" stop-color="rgb(174,44,0)"/>
<stop offset="0.4850" stop-color="rgb(191,43,0)"/>
<stop offset="0.4900" stop-color="rgb(208,43,0)"/>
<stop offset="0.4950" stop-color="rgb(223,42,0)"/>
<stop offset="0.5000" stop-color="rgb(234,42,0)"/>
<stop offset="0.5050" stop-color="rgb(241,41,0)"/>
<stop offset="0.5100" stop-color="rgb(243,41,0)"/>
<stop offset="0.5150" stop-color="rgb(238,40,0)"/>
<stop offset="0.5200" stop-color="rgb(227,40,0)"/>
<stop offset="0.5250" stop-color="rgb(212,40,0)"/>
<stop offset="0.5300" stop-color="rgb(194,39,0)"/>
<stop offset="0.5350" stop-color="rgb(175,39,0)"/>
<stop offset="0.5400" stop-color="rgb(157,38,0)"/>
<stop offset="0.5450" stop-color="rgb(139,38,0)"/>
<stop offset="0.5500" stop-color="rgb(123,37,0)"/>
<stop offset="0.5550" stop-color="rgb(108,37,0)"/>
<stop offset="0.5600" stop-color="rgb(96,36,0)"/>
<stop offset="0.5650" stop-color="rgb(84,36,0)"/>
<stop offset="0.5700" stop-color="rgb(75,36,0)"/>
<stop offset="0.5750" stop-color="rgb(66,35,0)"/>
<stop offset="0.5800" stop-color="rgb(59,35,0)"/>
<stop offset="0.5850" stop-color="rgb(53,34,0)"/>
<stop offset="0.5900" stop-color="rgb(47,34,0)"/>
<stop offset="0.5950" stop-color="rgb(42,33,0)"/>
<stop offset="0.6000" stop-color="rgb(38,33,0)"/>
<stop offset="0.6050" stop-color="rgb(34,33,0)"/>
<stop offset="0.6100" stop-color="rgb(31,32,0)"/>
<stop offset="0.6150" stop-color="rgb(28,32,0)"/>
<stop offset="0.6200" stop-color="rgb(26,31,0)"/>
<stop offset="0.6250" stop-color="rgb(24,31,0)"/>
<stop offset="0.6300" stop-color="rgb(22,30,0)"/>
<stop offset="0.6350" stop-color="rgb(20,30,0)"/>
<stop offset="0.6400" stop-color="rgb(18,30,0)"/>
<stop offset="0.6450" stop-color="rgb(17,29,0)"/>
<stop offset="0.6500" stop-color="rgb(15,29,0)"/>
<stop offset="0.6550" stop-color="rgb(14,28,0)"/>
<stop offset="0.6600" stop-color="rgb(13,28,0)"/>
<stop offset="0.6800" stop-color="rgb(10,26,0)"/>
<stop offset="0.7000" stop-color="rgb(8,25,0)"/>
<stop offset="0.7200" stop-color="rgb(6,23,0)"/>
<stop offset="0.7400" stop-color="rgb(5,22,0)"/>
<stop offset="0.7600" stop-color="rgb(4,20,0)"/>
<stop offset="0.7800" stop-color="rgb(3,18,0)"/>
<stop offset="0.8000" stop-color="rgb(2,17,0)"/>
<stop offset="0.8200" stop-color="rgb(2,16,0)"/>
<stop offset="0.8400" stop-color="rgb(1,14,0)"/>
<stop offset="0.8600" stop-color="rgb(1,13,0)"/>
<stop offset="0.8800" stop-color="rgb(1,11,0)"/>
<stop offset="0.9000" stop-color="rgb(1,10,0)"/>
<stop offset="0.9200" stop-color="rgb(1,8,0)"/>
<stop offset="0.9400" stop-color="rgb(0,7,0)"/>
<stop offset="0.9600" stop-color="rgb(0,6,0)"/>
<stop offset="0.9800" stop-color="rgb(0,4,0)"/>
<stop offset="1.0000" stop-color="rgb(0,3,0)"/>
</linearGradient>
<linearGradient id="gz" gradientUnits="userSpaceOnUse" x1="0" x2="0" y1="635" y2="1138.4">
<stop offset="0.0000" stop-color="rgb(0,6,17)"/>
<stop offset="0.0167" stop-color="rgb(0,6,17)"/>
<stop offset="0.0333" stop-color="rgb(0,7,18)"/>
<stop offset="0.0500" stop-color="rgb(0,7,19)"/>
<stop offset="0.0667" stop-color="rgb(0,8,20)"/>
<stop offset="0.0833" stop-color="rgb(0,8,21)"/>
<stop offset="0.1000" stop-color="rgb(0,9,22)"/>
<stop offset="0.1167" stop-color="rgb(0,9,23)"/>
<stop offset="0.1333" stop-color="rgb(0,10,24)"/>
<stop offset="0.1500" stop-color="rgb(0,11,25)"/>
<stop offset="0.1667" stop-color="rgb(0,11,26)"/>
<stop offset="0.1833" stop-color="rgb(0,12,27)"/>
<stop offset="0.2000" stop-color="rgb(0,13,29)"/>
<stop offset="0.2167" stop-color="rgb(0,14,30)"/>
<stop offset="0.2333" stop-color="rgb(0,14,32)"/>
<stop offset="0.2500" stop-color="rgb(0,15,33)"/>
<stop offset="0.2667" stop-color="rgb(0,16,35)"/>
<stop offset="0.2833" stop-color="rgb(0,17,36)"/>
<stop offset="0.3000" stop-color="rgb(0,18,38)"/>
<stop offset="0.3167" stop-color="rgb(0,20,40)"/>
<stop offset="0.3333" stop-color="rgb(0,21,41)"/>
<stop offset="0.3500" stop-color="rgb(1,22,43)"/>
<stop offset="0.3667" stop-color="rgb(1,24,45)"/>
<stop offset="0.3833" stop-color="rgb(1,25,47)"/>
<stop offset="0.4000" stop-color="rgb(1,27,50)"/>
<stop offset="0.4167" stop-color="rgb(2,29,52)"/>
<stop offset="0.4333" stop-color="rgb(2,30,54)"/>
<stop offset="0.4500" stop-color="rgb(3,32,57)"/>
<stop offset="0.4667" stop-color="rgb(3,35,60)"/>
<stop offset="0.4833" stop-color="rgb(4,37,62)"/>
<stop offset="0.5000" stop-color="rgb(5,39,65)"/>
<stop offset="0.5167" stop-color="rgb(6,42,68)"/>
<stop offset="0.5333" stop-color="rgb(7,44,71)"/>
<stop offset="0.5500" stop-color="rgb(8,47,75)"/>
<stop offset="0.5667" stop-color="rgb(10,50,78)"/>
<stop offset="0.5833" stop-color="rgb(12,53,82)"/>
<stop offset="0.6000" stop-color="rgb(15,57,86)"/>
<stop offset="0.6167" stop-color="rgb(17,61,90)"/>
<stop offset="0.6333" stop-color="rgb(20,64,94)"/>
<stop offset="0.6500" stop-color="rgb(24,69,98)"/>
<stop offset="0.6667" stop-color="rgb(28,73,103)"/>
<stop offset="0.6833" stop-color="rgb(33,78,108)"/>
<stop offset="0.7000" stop-color="rgb(38,83,113)"/>
<stop offset="0.7167" stop-color="rgb(44,88,118)"/>
<stop offset="0.7333" stop-color="rgb(51,94,123)"/>
<stop offset="0.7500" stop-color="rgb(58,100,129)"/>
<stop offset="0.7667" stop-color="rgb(66,106,135)"/>
<stop offset="0.7833" stop-color="rgb(75,113,141)"/>
<stop offset="0.8000" stop-color="rgb(85,120,148)"/>
<stop offset="0.8167" stop-color="rgb(95,128,155)"/>
<stop offset="0.8333" stop-color="rgb(107,136,162)"/>
<stop offset="0.8500" stop-color="rgb(119,145,169)"/>
<stop offset="0.8667" stop-color="rgb(132,155,177)"/>
<stop offset="0.8833" stop-color="rgb(146,165,186)"/>
<stop offset="0.9000" stop-color="rgb(160,175,194)"/>
<stop offset="0.9167" stop-color="rgb(175,187,203)"/>
<stop offset="0.9333" stop-color="rgb(190,199,213)"/>
<stop offset="0.9500" stop-color="rgb(206,211,222)"/>
<stop offset="0.9667" stop-color="rgb(222,225,233)"/>
<stop offset="0.9833" stop-color="rgb(239,240,244)"/>
<stop offset="1.0000" stop-color="rgb(255,255,255)"/>
</linearGradient>
<filter id="hot" x="0" y="0" width="1" height="1" color-interpolation-filters="sRGB"><feColorMatrix type="matrix" values="1 0.12500 0.06250 0 0  1 0.12500 0.06250 0 0  1 0.12500 0.06250 0 0  0 0 0 0 1"/><feComponentTransfer><feFuncR type="table" tableValues="0.0000 0.0833 0.1667 0.2500 0.3333 0.4167 0.5000 0.5833 0.6667 0.7500 0.8333 0.9167 1.0000 1.0000 1.0000 1.0000 1.0000 1.0000 1.0000 1.0000 1.0000 1.0000 1.0000 1.0000 1.0000 1.0000 1.0000 1.0000 1.0000 1.0000 1.0000 1.0000 1.0000"/><feFuncG type="table" tableValues="0.0000 0.0000 0.0000 0.0000 0.0000 0.0000 0.0000 0.0000 0.0000 0.0000 0.0000 0.0000 0.0000 0.0833 0.1667 0.2500 0.3333 0.4167 0.5000 0.5833 0.6667 0.7500 0.8333 0.9167 1.0000 1.0000 1.0000 1.0000 1.0000 1.0000 1.0000 1.0000 1.0000"/><feFuncB type="table" tableValues="0.0000 0.0000 0.0000 0.0000 0.0000 0.0000 0.0000 0.0000 0.0000 0.0000 0.0000 0.0000 0.0000 0.0000 0.0000 0.0000 0.0000 0.0000 0.0000 0.0000 0.0000 0.0000 0.0000 0.0000 0.0000 0.1250 0.2500 0.3750 0.5000 0.6250 0.7500 0.8750 1.0000"/></feComponentTransfer></filter>
<linearGradient id="cb" x1="0" x2="0" y1="1" y2="0"><stop offset="0" stop-color="#000"/><stop offset="0.375" stop-color="#f00"/><stop offset="0.75" stop-color="#ff0"/><stop offset="1" stop-color="#fff"/></linearGradient>
</defs>
<clipPath id="hc"><rect x="130.6" y="634.8" width="651" height="502.2"/></clipPath>
<g clip-path="url(#hc)"><g filter="url(#hot)" style="isolation:isolate"><rect x="124.6" y="628.8" width="663" height="514.2" fill="url(#gx)"/><rect x="124.6" y="628.8" width="663" height="514.2" fill="url(#gz)" style="mix-blend-mode:multiply"/></g></g>
<rect x="130.6" y="1136.2" width="651" height="1.1" fill="#000" opacity="0.75"/>
<text class="s" x="130.6" y="1177.5" font-size="35.2" text-anchor="middle" >1200</text>
<text class="s" x="260.8" y="1177.5" font-size="35.2" text-anchor="middle" >1300</text>
<text class="s" x="391" y="1177.5" font-size="35.2" text-anchor="middle" >1400</text>
<text class="s" x="521.2" y="1177.5" font-size="35.2" text-anchor="middle" >1500</text>
<text class="s" x="651.4" y="1177.5" font-size="35.2" text-anchor="middle" >1600</text>
<text class="s" x="781.6" y="1177.5" font-size="35.2" text-anchor="middle" >1700</text>
<text class="s" x="122.8" y="1068" font-size="36" text-anchor="end" >5</text>
<text class="s" x="122.8" y="984.1" font-size="36" text-anchor="end" >10</text>
<text class="s" x="122.8" y="900.2" font-size="36" text-anchor="end" >15</text>
<text class="s" x="122.8" y="816.3" font-size="36" text-anchor="end" >20</text>
<text class="s" x="122.8" y="732.4" font-size="36" text-anchor="end" >25</text>
<text class="s" x="122.8" y="648.5" font-size="36" text-anchor="end" >30</text>
<text class="s" x="455.6" y="1217.8" font-size="35" text-anchor="middle" >Wavelength (nm)</text>
<text class="s" transform="translate(78.4 886) rotate(-90)" font-size="36" text-anchor="middle">Z (nm)</text>
<rect x="822" y="635.2" width="14.6" height="500" fill="url(#cb)" stroke="#9a9a9a" stroke-width="0.8"/>
<path d="M836.6 1072.1h-4 M836.6 1008.4h-4 M836.6 944.7h-4 M836.6 881h-4 M836.6 817.3h-4 M836.6 753.6h-4 M836.6 689.9h-4" stroke="#555" stroke-width="0.8" fill="none"/>
<text class="s" x="844" y="1083.6" font-size="33" text-anchor="start" >2</text>
<text class="s" x="844" y="1019.9" font-size="33" text-anchor="start" >4</text>
<text class="s" x="844" y="956.2" font-size="33" text-anchor="start" >6</text>
<text class="s" x="844" y="892.5" font-size="33" text-anchor="start" >8</text>
<text class="s" x="844" y="828.8" font-size="33" text-anchor="start" >10</text>
<text class="s" x="844" y="765.1" font-size="33" text-anchor="start" >12</text>
<text class="s" x="844" y="701.4" font-size="33" text-anchor="start" >14</text>
<text class="s" x="848" y="648.7" font-size="33" text-anchor="start">×<tspan dx="1.5">10</tspan><tspan font-size="20" dx="2.5" dy="-10.6">12</tspan></text>
<text class="s" transform="translate(908 886) rotate(-90)" font-size="32" text-anchor="middle">The flux of collected hot electrons</text>
<text class="a" x="1" y="642.7" font-size="42" text-anchor="start" >(c)</text>
</g>
<g id="panel-d">
<rect x="1113.5" y="643" width="642.5" height="494.4" fill="none" stroke="#000" stroke-width="2.2"/>
<path d="M1242 1137.4v-6.5 M1242 643v6.5 M1370.5 1137.4v-6.5 M1370.5 643v6.5 M1499 1137.4v-6.5 M1499 643v6.5 M1627.5 1137.4v-6.5 M1627.5 643v6.5 M1113.5 766.6h6.5 M1756 766.6h-6.5 M1113.5 890.2h6.5 M1756 890.2h-6.5 M1113.5 1013.8h6.5 M1756 1013.8h-6.5" stroke="#000" stroke-width="2.2" fill="none"/>
<path d="M1113.5 729.4h4 M1756 729.4h-4 M1113.5 707.6h4 M1756 707.6h-4 M1113.5 692.2h4 M1756 692.2h-4 M1113.5 680.2h4 M1756 680.2h-4 M1113.5 670.4h4 M1756 670.4h-4 M1113.5 662.1h4 M1756 662.1h-4 M1113.5 655h4 M1756 655h-4 M1113.5 648.7h4 M1756 648.7h-4 M1113.5 853h4 M1756 853h-4 M1113.5 831.2h4 M1756 831.2h-4 M1113.5 815.8h4 M1756 815.8h-4 M1113.5 803.8h4 M1756 803.8h-4 M1113.5 794h4 M1756 794h-4 M1113.5 785.7h4 M1756 785.7h-4 M1113.5 778.6h4 M1756 778.6h-4 M1113.5 772.3h4 M1756 772.3h-4 M1113.5 976.6h4 M1756 976.6h-4 M1113.5 954.8h4 M1756 954.8h-4 M1113.5 939.4h4 M1756 939.4h-4 M1113.5 927.4h4 M1756 927.4h-4 M1113.5 917.6h4 M1756 917.6h-4 M1113.5 909.3h4 M1756 909.3h-4 M1113.5 902.2h4 M1756 902.2h-4 M1113.5 895.9h4 M1756 895.9h-4 M1113.5 1100.2h4 M1756 1100.2h-4 M1113.5 1078.4h4 M1756 1078.4h-4 M1113.5 1063h4 M1756 1063h-4 M1113.5 1051h4 M1756 1051h-4 M1113.5 1041.2h4 M1756 1041.2h-4 M1113.5 1032.9h4 M1756 1032.9h-4 M1113.5 1025.8h4 M1756 1025.8h-4 M1113.5 1019.5h4 M1756 1019.5h-4" stroke="#000" stroke-width="2.2" fill="none"/>
<path d="M1113.8 724.7 L1117.8 725.7 L1121.9 726.7 L1125.9 727.7 L1129.9 728.7 L1134 729.8 L1138 730.9 L1142 732 L1146.1 733.2 L1150.1 734.4 L1154.2 735.6 L1158.2 736.8 L1162.2 738.1 L1166.3 739.5 L1170.3 740.9 L1174.3 742.3 L1178.4 743.7 L1182.4 745.1 L1186.4 746.6 L1190.5 748 L1194.5 749.5 L1198.5 750.9 L1202.6 752.3 L1206.6 753.7 L1210.6 755.1 L1214.7 756.4 L1218.7 757.8 L1222.8 759.2 L1226.8 760.5 L1230.8 761.9 L1234.9 763.3 L1238.9 764.6 L1242.9 766 L1247 767.4 L1251 768.8 L1255 770.2 L1259.1 771.6 L1263.1 773 L1267.1 774.4 L1271.2 775.8 L1275.2 777.3 L1279.2 778.7 L1283.3 780.2 L1287.3 781.6 L1291.3 783.1 L1295.4 784.5 L1299.4 786 L1303.5 787.5 L1307.5 788.9 L1311.5 790.4 L1315.6 791.9 L1319.6 793.5 L1323.6 795 L1327.7 796.5 L1331.7 798.1 L1335.7 799.6 L1339.8 801.2 L1343.8 802.8 L1347.8 804.4 L1351.9 806.1 L1355.9 807.9 L1359.9 809.8 L1364 811.7 L1368 813.7 L1372.1 815.8 L1376.1 818 L1380.1 820.3 L1384.2 822.7 L1388.2 825.3 L1392.2 828 L1396.3 830.7 L1400.3 833.4 L1404.3 836.1 L1408.4 838.8 L1412.4 841.3 L1416.4 843.6 L1420.5 845.8 L1424.5 847.6 L1428.5 848.8 L1432.6 849.7 L1436.6 850.5 L1440.7 851.4 L1444.7 852.2 L1448.7 852.9 L1452.8 853.7 L1456.8 854.7 L1460.8 855.7 L1464.9 856.8 L1468.9 858 L1472.9 859.2 L1477 860.6 L1481 862.1 L1485 863.6 L1489.1 865.3 L1493.1 867 L1497.1 868.7 L1501.2 870.4 L1505.2 872.2 L1509.3 874 L1513.3 875.9 L1517.3 877.8 L1521.4 879.7 L1525.4 881.7 L1529.4 883.6 L1533.5 885.6 L1537.5 887.6 L1541.5 889.6 L1545.6 891.6 L1549.6 893.6 L1553.6 895.6 L1557.7 897.7 L1561.7 899.7 L1565.7 901.8 L1569.8 903.9 L1573.8 906 L1577.9 908.1 L1581.9 910.2 L1585.9 912.4 L1590 914.6 L1594 916.8 L1598 919 L1602.1 921.3 L1606.1 923.5 L1610.1 925.7 L1614.2 928 L1618.2 930.2 L1622.2 932.4 L1626.3 934.6 L1630.3 936.8 L1634.3 939 L1638.4 941.3 L1642.4 943.5 L1646.4 945.7 L1650.5 947.9 L1654.5 950.1 L1658.6 952.4 L1662.6 954.6 L1666.6 956.8 L1670.7 959.1 L1674.7 961.3 L1678.7 963.6 L1682.8 965.8 L1686.8 968.1 L1690.8 970.4 L1694.9 972.7 L1698.9 975 L1702.9 977.2 L1707 979.5 L1711 981.8 L1715 984.2 L1719.1 986.5 L1723.1 988.8 L1727.2 991.1 L1731.2 993.5 L1735.2 995.8 L1739.3 998.1 L1743.3 1000.5 L1747.3 1002.9 L1751.4 1005.2 L1755.4 1007.6" fill="none" stroke="#ff0000" stroke-width="4" stroke-linejoin="round"/>
<path d="M1113.8 712.1 L1126.8 723.5 L1138.5 728.2 L1151.9 736.5 L1165.3 741.1 L1178.7 744.4 L1192.1 748.6 L1205.5 752.3 L1218.8 755 L1232.2 759 L1255.7 768.4 L1272.4 773.7 L1294.2 783.4 L1319.3 790.1 L1339.4 795.8 L1356.1 800.8 L1372.9 808 L1389.6 817.6 L1404.7 828.1 L1413.5 833.9 L1430.2 846.1 L1447 857.8 L1463.7 868.4 L1480.5 877.9 L1497.2 887.9 L1513.9 898.8 L1530.7 910.9 L1547.4 923.9 L1564.2 936.5 L1580.9 949 L1597.6 961.6 L1614.4 973 L1628.5 982.8 L1645.6 994.8 L1666.1 1010.2 L1679.8 1018.4 L1693.5 1025.1 L1705.5 1033.3 L1717.5 1039.3 L1729.4 1053 L1743.1 1072.6 L1748.3 1099.2 L1755.4 1136.5" fill="none" stroke="#00ff00" stroke-width="4" stroke-linejoin="round"/>
<text class="s" x="1113.5" y="1177.8" font-size="34.7" text-anchor="middle" >1200</text>
<text class="s" x="1242" y="1177.8" font-size="34.7" text-anchor="middle" >1300</text>
<text class="s" x="1370.5" y="1177.8" font-size="34.7" text-anchor="middle" >1400</text>
<text class="s" x="1499" y="1177.8" font-size="34.7" text-anchor="middle" >1500</text>
<text class="s" x="1627.5" y="1177.8" font-size="34.7" text-anchor="middle" >1600</text>
<text class="s" x="1756" y="1177.8" font-size="34.7" text-anchor="middle" >1700</text>
<text class="s" x="1104.5" y="661.6" font-size="35.4" text-anchor="end">10<tspan font-size="27" dy="-17.5">0</tspan></text>
<text class="s" x="1104.5" y="785.2" font-size="35.4" text-anchor="end">10<tspan font-size="27" dy="-17.5">-1</tspan></text>
<text class="s" x="1104.5" y="908.8" font-size="35.4" text-anchor="end">10<tspan font-size="27" dy="-17.5">-2</tspan></text>
<text class="s" x="1104.5" y="1032.4" font-size="35.4" text-anchor="end">10<tspan font-size="27" dy="-17.5">-3</tspan></text>
<text class="s" x="1104.5" y="1156" font-size="35.4" text-anchor="end">10<tspan font-size="27" dy="-17.5">-4</tspan></text>
<text class="s" x="1434.5" y="1217.3" font-size="35" text-anchor="middle" >Wavelength (nm)</text>
<text class="s" transform="translate(1037.7 890) rotate(-90)" font-size="35" text-anchor="middle">IQE (%)</text>
<path d="M1559 669H1585.3" stroke="#ff0000" stroke-width="3.8"/><path d="M1559 704.5H1585.3" stroke="#00ff00" stroke-width="3.8"/>
<text class="s" x="1588" y="679.5" font-size="31.3" text-anchor="start" >Calculated</text>
<text class="s" x="1588" y="715.1" font-size="31.3" text-anchor="start" >Experiment</text>
<text class="a" x="984" y="642.6" font-size="42" text-anchor="start" >(d)</text>
</g>
</svg></body></html>
